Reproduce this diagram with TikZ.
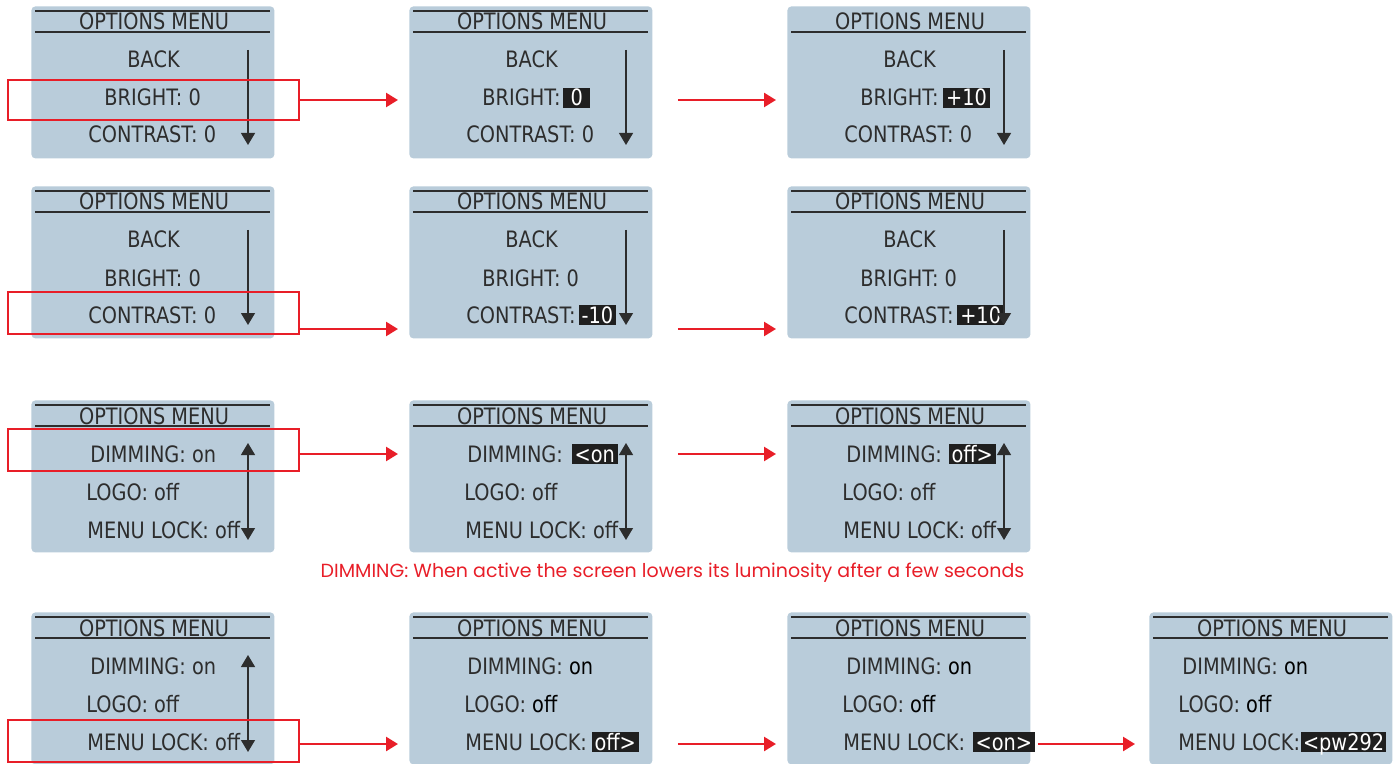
\documentclass[tikz,border=0pt]{standalone}
\usepackage{fontspec}
\newfontfamily\lcdfont{DejaVu Sans}[FakeStretch=0.855]
\newfontfamily\notefont{Poppins}
\definecolor{screen}{RGB}{185,204,218}
\definecolor{ink}{RGB}{45,45,45}
\definecolor{mark}{RGB}{232,30,40}
\usetikzlibrary{arrows.meta,positioning,calc}
\newcommand{\val}[1]{\textcolor{black}{#1}}

\begin{document}
\begin{tikzpicture}[x=0.5pt,y=-0.5pt,
    lcd/.style={fill=screen, rounded corners=2pt, anchor=north west, inner sep=0pt,
      minimum width=121.5pt, minimum height=76pt},
    ttl/.style={font=\lcdfont\fontsize{11.3}{13}\selectfont, text=ink, anchor=base, inner sep=0pt},
    item/.style={font=\lcdfont\fontsize{11.3}{13}\selectfont, text=ink, anchor=base west, inner sep=0pt},
    hl/.style={font=\lcdfont\fontsize{11.3}{13}\selectfont, fill=black!88, text=white, inner xsep=1.4pt,
      inner ysep=0.3pt, text height=8.7pt, text depth=0.6pt},
    rule/.style={draw=ink, line width=0.6pt},
    scroll/.style={draw=ink, line width=0.6pt, -{Triangle[length=6pt,width=7pt]}},
    scrolls/.style={draw=ink, line width=0.6pt, {Triangle[length=6pt,width=7pt]}-{Triangle[length=6pt,width=7pt]}},
    pick/.style={draw=mark, line width=1pt, anchor=north west, inner sep=0pt,
      minimum width=145.5pt, minimum height=20pt},
    go/.style={draw=mark, line width=1.25pt, -{Triangle[length=6pt,width=7pt]}},
    note/.style={font=\notefont\fontsize{9.5}{12}\selectfont, text=mark, inner sep=0pt},
  ]
  \useasboundingbox (0,0) rectangle (1400,764);

  % screens
  \foreach \n/\x/\y in {a1/31/6, a2/409/6, a3/787/6, b1/31/186, b2/409/186, b3/787/186,
      c1/31/400, c2/409/400, c3/787/400, d1/31/612, d2/409/612, d3/787/612, d4/1149/612} {
    \node[lcd] (\n) at (\x,\y) {};
    \node[ttl] (\n-t) at ($(\n.north west)+(123,24)$) {OPTIONS MENU};
    \draw[rule] ($(\n.north west)+(4,26)$) -- ($(\n.north east)+(-5,26)$);
  }
  \foreach \n in {a1,a2,b1,b2,b3,c1,c2,c3,d1,d2,d3,d4}
    \draw[rule] ($(\n.north west)+(4,5)$) -- ($(\n.north east)+(-5,5)$);

  % bright / contrast rows
  \foreach \n in {a1,a2,a3,b1,b2,b3}
    \node[item] (\n-1) at ($(\n.north west)+(96,62)$) {BACK};
  \node[item] (a1-2) at ($(a1.north west)+(73,100)$) {BRIGHT: 0};
  \node[item] (a1-3) at ($(a1.north west)+(57,137)$) {CONTRAST: 0};
  \node[item] (a2-2) at ($(a2.north west)+(73,100)$) {BRIGHT:};
  \node[hl, minimum width=13.5pt, base right=1pt of a2-2] (a2-v) {0};
  \node[item] (a2-3) at ($(a2.north west)+(57,137)$) {CONTRAST: 0};
  \node[item] (a3-2) at ($(a3.north west)+(73,100)$) {BRIGHT:};
  \node[hl, base right=2pt of a3-2] (a3-v) {+10};
  \node[item] (a3-3) at ($(a3.north west)+(57,137)$) {CONTRAST: 0};

  \node[item] (b1-2) at ($(b1.north west)+(73,100)$) {BRIGHT: 0};
  \node[item] (b1-3) at ($(b1.north west)+(57,137)$) {CONTRAST: 0};
  \node[item] (b2-2) at ($(b2.north west)+(73,100)$) {BRIGHT: 0};
  \node[item] (b2-3) at ($(b2.north west)+(57,137)$) {CONTRAST:};
  \node[hl, base right=1.2pt of b2-3] (b2-v) {-10};
  \node[item] (b3-2) at ($(b3.north west)+(73,100)$) {BRIGHT: 0};
  \node[item] (b3-3) at ($(b3.north west)+(57,137)$) {CONTRAST:};
  \node[hl, base right=1.5pt of b3-3] (b3-v) {+10};

  % dimming / logo / lock rows
  \node[item] (c1-1) at ($(c1.north west)+(59,62)$) {DIMMING: on};
  \node[item] (c1-2) at ($(c1.north west)+(55,100)$) {LOGO: off};
  \node[item] (c1-3) at ($(c1.north west)+(56,138)$) {MENU LOCK: off};
  \node[item] (c2-1) at ($(c2.north west)+(58,62)$) {DIMMING:};
  \node[hl, base right=4pt of c2-1] (c2-v) {<on};
  \node[item] (c2-2) at ($(c2.north west)+(55,100)$) {LOGO: off};
  \node[item] (c2-3) at ($(c2.north west)+(56,138)$) {MENU LOCK: off};
  \node[item] (c3-1) at ($(c3.north west)+(59,62)$) {DIMMING:};
  \node[hl, base right=3pt of c3-1] (c3-v) {off>};
  \node[item] (c3-2) at ($(c3.north west)+(55,100)$) {LOGO: off};
  \node[item] (c3-3) at ($(c3.north west)+(56,138)$) {MENU LOCK: off};

  \node[item] (d1-1) at ($(d1.north west)+(59,62)$) {DIMMING: on};
  \node[item] (d1-2) at ($(d1.north west)+(55,100)$) {LOGO: off};
  \node[item] (d1-3) at ($(d1.north west)+(56,138)$) {MENU LOCK: off};
  \node[item] (d2-1) at ($(d2.north west)+(58,62)$) {DIMMING: \val{on}};
  \node[item] (d2-2) at ($(d2.north west)+(55,100)$) {LOGO: \val{off}};
  \node[item] (d2-3) at ($(d2.north west)+(56,138)$) {MENU LOCK:};
  \node[hl, base right=2pt of d2-3] (d2-v) {off>};
  \node[item] (d3-1) at ($(d3.north west)+(59,62)$) {DIMMING: \val{on}};
  \node[item] (d3-2) at ($(d3.north west)+(55,100)$) {LOGO: \val{off}};
  \node[item] (d3-3) at ($(d3.north west)+(56,138)$) {MENU LOCK:};
  \node[hl, base right=3.5pt of d3-3] (d3-v) {<on>};
  \node[item] (d4-1) at ($(d4.north west)+(33,62)$) {DIMMING: \val{on}};
  \node[item] (d4-2) at ($(d4.north west)+(29,100)$) {LOGO: \val{off}};
  \node[item] (d4-3) at ($(d4.north west)+(29,138)$) {MENU LOCK:};
  \node[hl, inner xsep=0.8pt, base right=0.3pt of d4-3] (d4-v) {<pw292};

  % scroll bars
  \foreach \n in {a1,a2,a3,b1,b2,b3}
    \draw[scroll] ($(\n.north west)+(217,44)$) -- ($(\n.north west)+(217,139)$);
  \foreach \n in {c1,c2,c3,d1}
    \draw[scrolls] ($(\n.north west)+(217,43)$) -- ($(\n.north west)+(217,140)$);

  % selections
  \node[pick] (pick-a) at (7,79) {};
  \node[pick, minimum height=21pt] (pick-b) at (7,291) {};
  \node[pick, minimum height=21pt] (pick-c) at (7,428) {};
  \node[pick, minimum height=21pt] (pick-d) at (7,719) {};

  \coordinate (go-a) at (pick-a.east);
  \coordinate (go-b) at ($(pick-b.south east)+(0,-6)$);
  \coordinate (go-c) at ($(pick-c.east)+(0,4)$);
  \coordinate (go-d) at ($(pick-d.east)+(0,3)$);

  \draw[go, shorten >=5.5pt] (go-a) -- (go-a -| a2.west);
  \draw[go, shorten <=12.5pt, shorten >=5.5pt] (a2.east |- go-a) -- (a3.west |- go-a);
  \draw[go, shorten >=5.5pt] (go-b) -- (go-b -| b2.west);
  \draw[go, shorten <=12.5pt, shorten >=5.5pt] (b2.east |- go-b) -- (b3.west |- go-b);
  \draw[go, shorten >=5.5pt] (go-c) -- (go-c -| c2.west);
  \draw[go, shorten <=12.5pt, shorten >=5.5pt] (c2.east |- go-c) -- (c3.west |- go-c);
  \draw[go, shorten >=5.5pt] (go-d) -- (go-d -| d2.west);
  \draw[go, shorten <=12.5pt, shorten >=5.5pt] (d2.east |- go-d) -- (d3.west |- go-d);
  \draw[go, shorten <=3.5pt, shorten >=7pt] (d3.east |- go-d) -- (d4.west |- go-d);

  \node[note] (dim-note) at (672.5,573) {DIMMING: When active the screen lowers its luminosity after a few seconds};
\end{tikzpicture}
\end{document}
